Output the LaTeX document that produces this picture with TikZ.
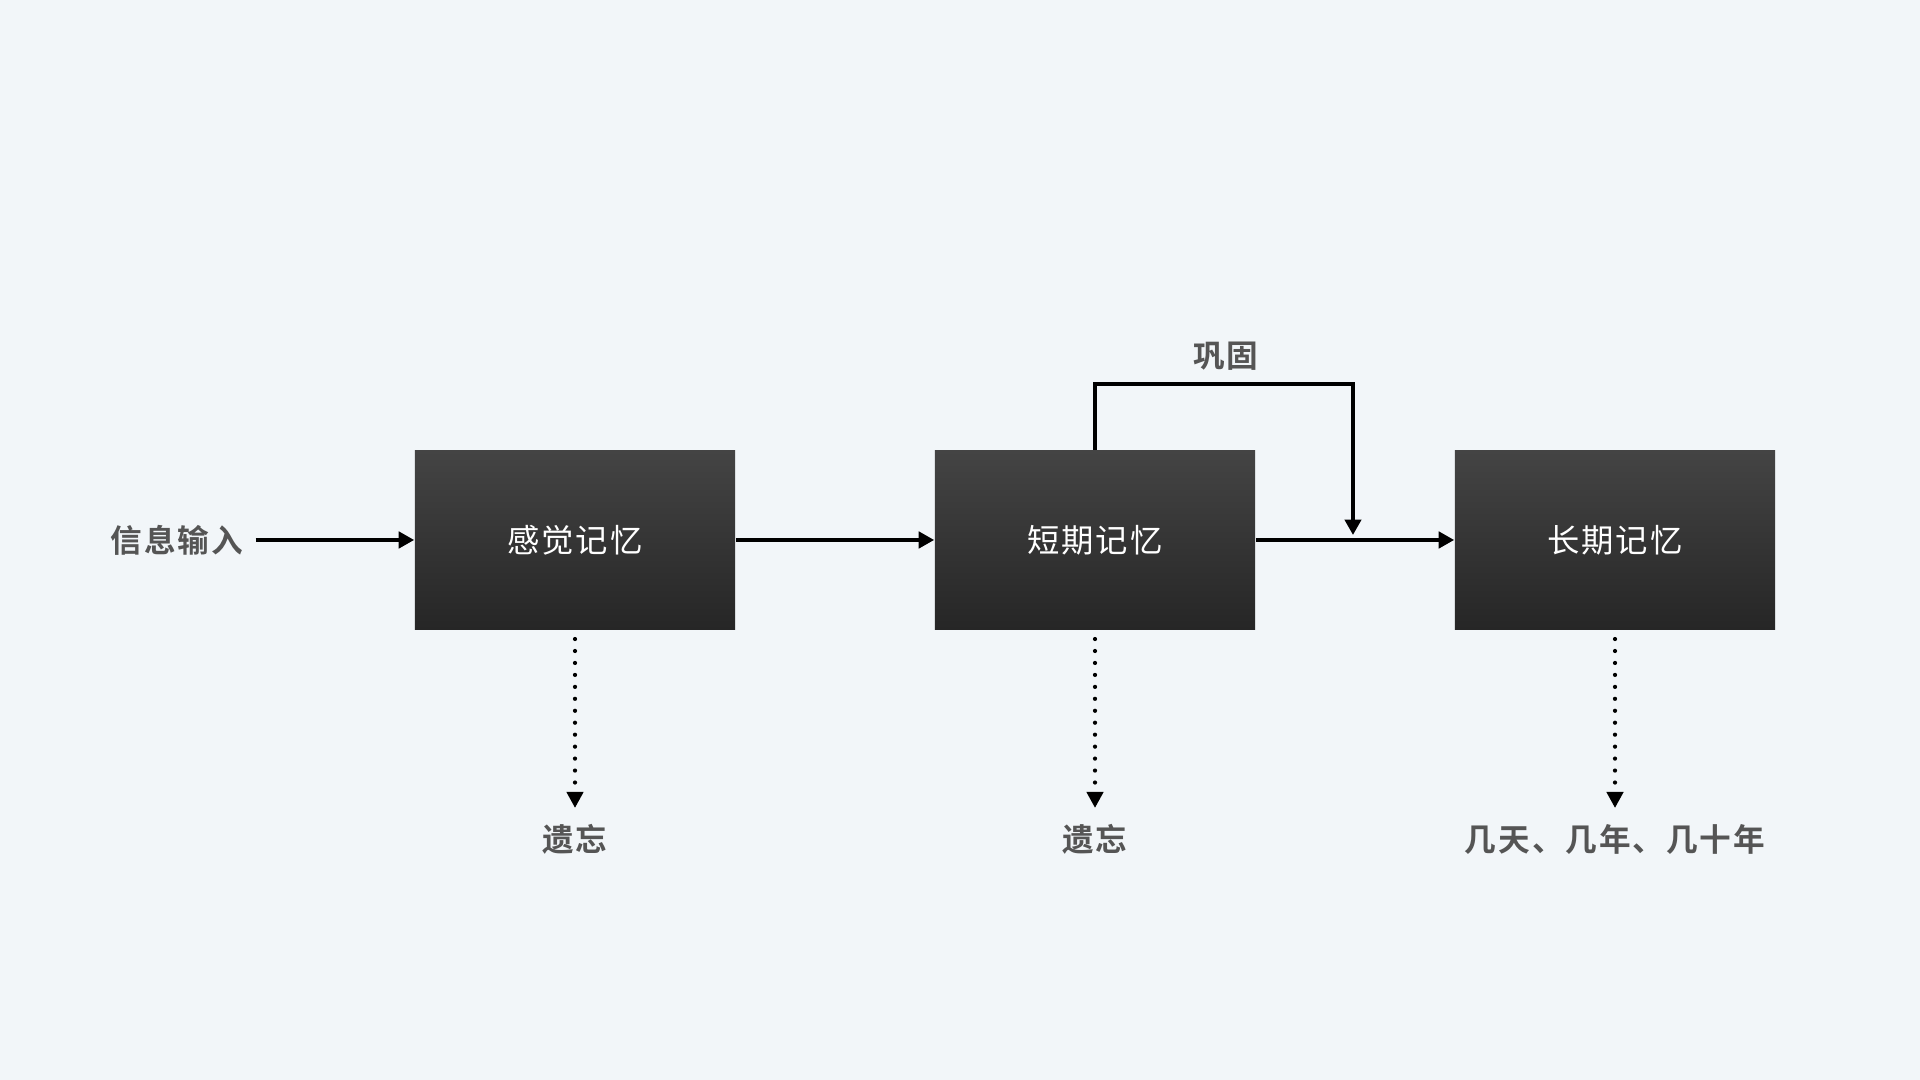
\documentclass[tikz,border=0pt]{standalone}
\usepackage{fontspec}
\newfontfamily\cjk[LetterSpace=6]{Noto Sans CJK SC}[BoldFont={Noto Sans CJK SC Bold}]
\usepackage{tikz}
\usetikzlibrary{arrows.meta}
\definecolor{paper}{HTML}{F2F6F9}
\definecolor{ink}{HTML}{555555}
\definecolor{boxtop}{HTML}{444444}
\definecolor{boxbot}{HTML}{262626}
\tikzstyle{memory}=[rectangle, minimum width=3.2cm, minimum height=1.79cm, inner sep=0pt, top color=boxtop, bottom color=boxbot, text=white, font=\cjk\fontsize{9.2}{11}\selectfont]
\tikzstyle{tag}=[text=ink, font=\cjk\bfseries\fontsize{9}{11}\selectfont]
\tikzstyle{flow}=[line width=1.15pt, -{Triangle[length=4.4pt,width=4.6pt]}]
\tikzstyle{fade}=[line width=1.2pt, line cap=round, dash pattern=on 0pt off 3.4pt, -{Triangle[length=4.6pt,width=4.6pt]}, shorten >=1pt]

\begin{document}
\begin{tikzpicture}[x=0.01cm, y=-0.01cm]

		\fill[paper] (0,0) rectangle (1920,1080);
		\useasboundingbox (0,0) rectangle (1920,1080);

		\foreach \name/\x/\txt in {sm/575/感觉记忆, stm/1095/短期记忆, ltm/1615/长期记忆}{
			\node[memory] (\name) at (\x,540) {\txt};
		}

		\node[tag] (in) at (177,540) {信息输入};
		\node[tag] (fix) at (1226,356) {巩固};
		\node[tag] (f1) at (575,839) {遗忘};
		\node[tag] (f2) at (1095,839) {遗忘};
		\node[tag] (f3) at (1615,839) {几天、几年、几十年};

		\draw[flow] (in.east) -- (sm.west);
		\draw[flow] (sm.east) -- (stm.west);
		\draw[flow] (stm.east) -- (ltm.west);

		\coordinate (top) at (1353,384);
		\coordinate (join) at (1353,535);
		\draw[flow] (stm.north) |- (top) -- (join);

		\foreach \a/\b in {sm/f1, stm/f2, ltm/f3}{
			\draw[fade] ([yshift=-2.5pt]\a.south) -- (\b.north);
		}

\end{tikzpicture}
\end{document}
